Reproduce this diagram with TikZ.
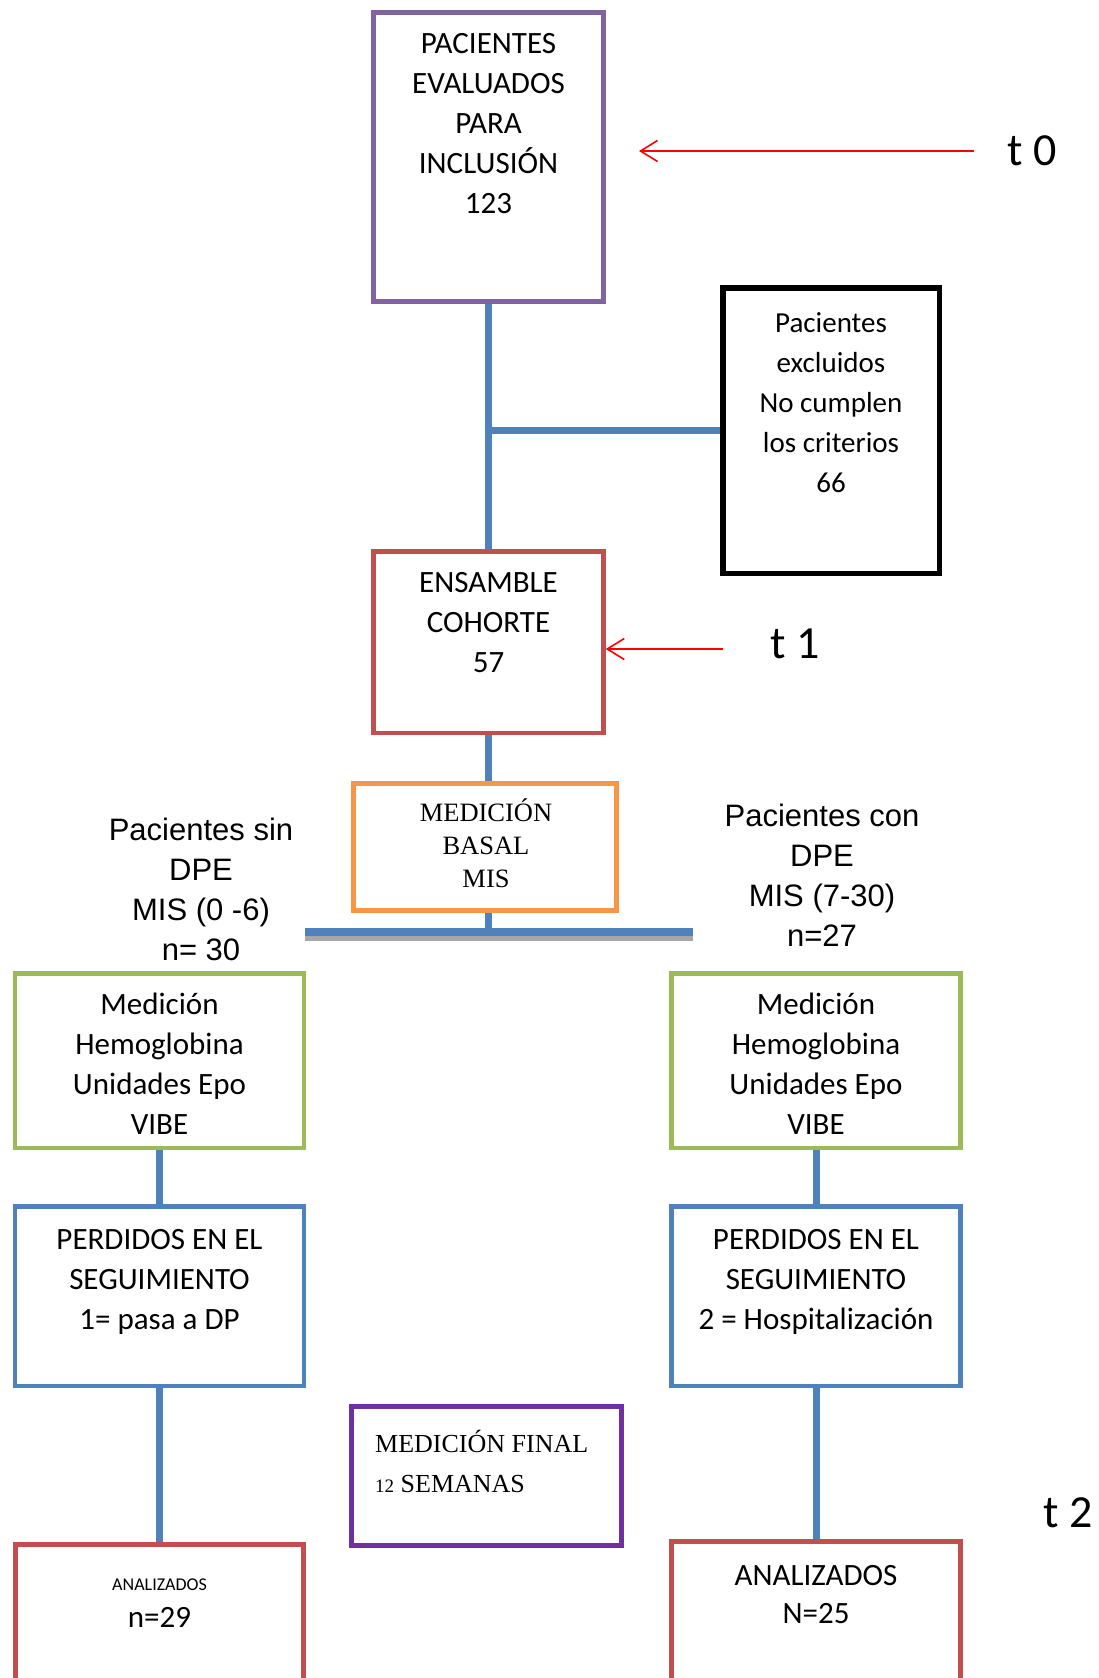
\documentclass[tikz,border=0pt]{standalone}
\usepackage{fontspec}
\newfontfamily\calibri{Carlito}
\newfontfamily\arial{Liberation Sans}
\newfontfamily\romana{Liberation Serif}
\usetikzlibrary{arrows.meta}
\definecolor{lila}{HTML}{8064A2}
\definecolor{morado}{HTML}{7030A0}
\definecolor{rojo}{HTML}{C0504D}
\definecolor{naranja}{HTML}{F79646}
\definecolor{verde}{HTML}{9BBB59}
\definecolor{azul}{HTML}{4F81BD}
\begin{document}
\begin{tikzpicture}[x=1pt,y=-1pt,
  caja/.style={draw=#1,line width=4.5pt,inner sep=0pt,fill=white},
  linea/.style={azul,line width=7pt},
  flecha/.style={red,line width=1.6pt,-{Straight Barb[length=17pt,width=21pt]}},
  texto/.style={inner sep=0pt,align=center,font=\calibri\fontsize{31}{40}\selectfont},
  serie/.style={inner sep=0pt,align=center,font=\romana\fontsize{26.5}{33}\selectfont},
  grupo/.style={inner sep=0pt,align=center,anchor=north,font=\arial\fontsize{31}{40}\selectfont},
  tiempo/.style={inner sep=0pt,anchor=base west,font=\calibri\fontsize{46}{50}\selectfont}]
  %tamaño de la hoja
  	\useasboundingbox (0,0) rectangle (1099,1678);
  	\clip (0,0) rectangle (1099,1678);

  %evaluados
  	\node[caja=lila,minimum width=230pt,minimum height=289pt] (eval) at (488.5,157) {};
  	\node[texto,anchor=north] (evaltxt) at (488.5,33) {PACIENTES\\EVALUADOS\\PARA\\INCLUSIÓN\\123};
  %excluidos
  	\node[caja=black,line width=5.5pt,minimum width=216.5pt,minimum height=285.5pt] (excl) at (831,430.5) {};
  	\node[texto,anchor=north,font=\calibri\fontsize{29}{40}\selectfont] (excltxt) at (831,312.5) {Pacientes\\excluidos\\No cumplen\\los criterios\\66};
  %cohorte
  	\node[caja=rojo,minimum width=230pt,minimum height=181.5pt] (coh) at (488.5,642) {};
  	\node[texto,anchor=north] (cohtxt) at (488.5,572) {ENSAMBLE\\COHORTE\\57};
  %medicion basal
  	\node[caja=naranja,line width=5pt,minimum width=263pt,minimum height=127pt] (basal) at (485,847) {};
  	\node[serie,anchor=north] (basaltxt) at (486,799) {MEDICIÓN\\BASAL\\MIS};

  %grupos
  	\node[grupo] (sin) at (201,818) {Pacientes sin\\DPE\\MIS (0 -6)\\n= 30};
  	\node[grupo] (con) at (822,804) {Pacientes con\\DPE\\MIS (7-30)\\n=27};

  %mediciones
  	\node[caja=verde,minimum width=289pt,minimum height=174.5pt] (grL) at (159.5,1060.5) {};
  	\node[texto,anchor=north] (grLtxt) at (159.5,993) {Medición\\Hemoglobina\\Unidades Epo\\VIBE};
  	\node[caja=verde,minimum width=289pt,minimum height=174.5pt] (grR) at (816,1060.5) {};
  	\node[texto,anchor=north] (grRtxt) at (816,993) {Medición\\Hemoglobina\\Unidades Epo\\VIBE};

  %perdidos
  	\node[caja=azul,minimum width=289pt,minimum height=179.5pt] (blL) at (159.5,1296) {};
  	\node[texto,anchor=north] (blLtxt) at (159.5,1229) {PERDIDOS EN EL\\SEGUIMIENTO\\1= pasa a DP};
  	\node[caja=azul,minimum width=289pt,minimum height=179.5pt] (blR) at (816,1296) {};
  	\node[texto,anchor=north] (blRtxt) at (816,1229) {PERDIDOS EN EL\\SEGUIMIENTO\\2 = Hospitalización};

  %analizados
  	\node[caja=rojo,line width=5pt,minimum width=288pt,minimum height=153pt] (redL) at (159.5,1621) {};
  	\node[texto,anchor=base,font=\calibri\fontsize{18}{20}\selectfont] (anL) at (159.5,1590) {ANALIZADOS};
  	\node[texto,anchor=base] (nL) at (159.5,1627) {n=29};
  	\node[caja=rojo,line width=5pt,minimum width=289pt,minimum height=156pt] (redR) at (816,1619.5) {};
  	\node[texto,anchor=north,font=\calibri\fontsize{31}{38}\selectfont] (anR) at (816,1565) {ANALIZADOS\\N=25};

  %medicion final
  	\node[caja=morado,line width=5pt,minimum width=270pt,minimum height=139pt] (final) at (486.5,1476) {};
  	\node[serie,anchor=north west,align=left,font=\romana\fontsize{26}{40}\selectfont] (finaltxt) at (375,1430) {MEDICIÓN FINAL\\{\fontsize{19}{20}\selectfont 12} SEMANAS};

  %tiempos
  	\node[tiempo] (t0) at (1007,165) {t 0};
  	\node[tiempo] (t1) at (770,658) {t 1};
  	\node[tiempo] (t2) at (1043,1527) {t 2};
  	\coordinate (a0) at (974,151);
  	\coordinate (b0) at (639,151);
  	\coordinate (a1) at (723,649);
  	\draw[flecha] (a0) -- (b0);
  	\draw[flecha] (a1) -- (coh.east |- a1);

  %lineas
  	\draw[linea] (eval.south) -- (coh.north);
  	\draw[linea] (eval.south |- excl.west) -- (excl.west);
  	\draw[linea] (coh.south) -- (coh.south |- basal.north);
  	\coordinate (barc) at (488.5,932);
  	\coordinate (barl) at (305,932);
  	\coordinate (barr) at (693,932);
  	\draw[linea] (basal.south -| barc) -- (barc);
  	\draw[gray!70,line width=5pt] ([yshift=-6.5pt]barl) -- ([yshift=-6.5pt]barr);
  	\draw[azul,line width=8pt] (barl) -- (barr);
  	\draw[linea] (grL.south) -- (blL.north);
  	\draw[linea] (blL.south) -- (redL.north);
  	\draw[linea] (grR.south) -- (blR.north);
  	\draw[linea] (blR.south) -- (redR.north);
\end{tikzpicture}
\end{document}
